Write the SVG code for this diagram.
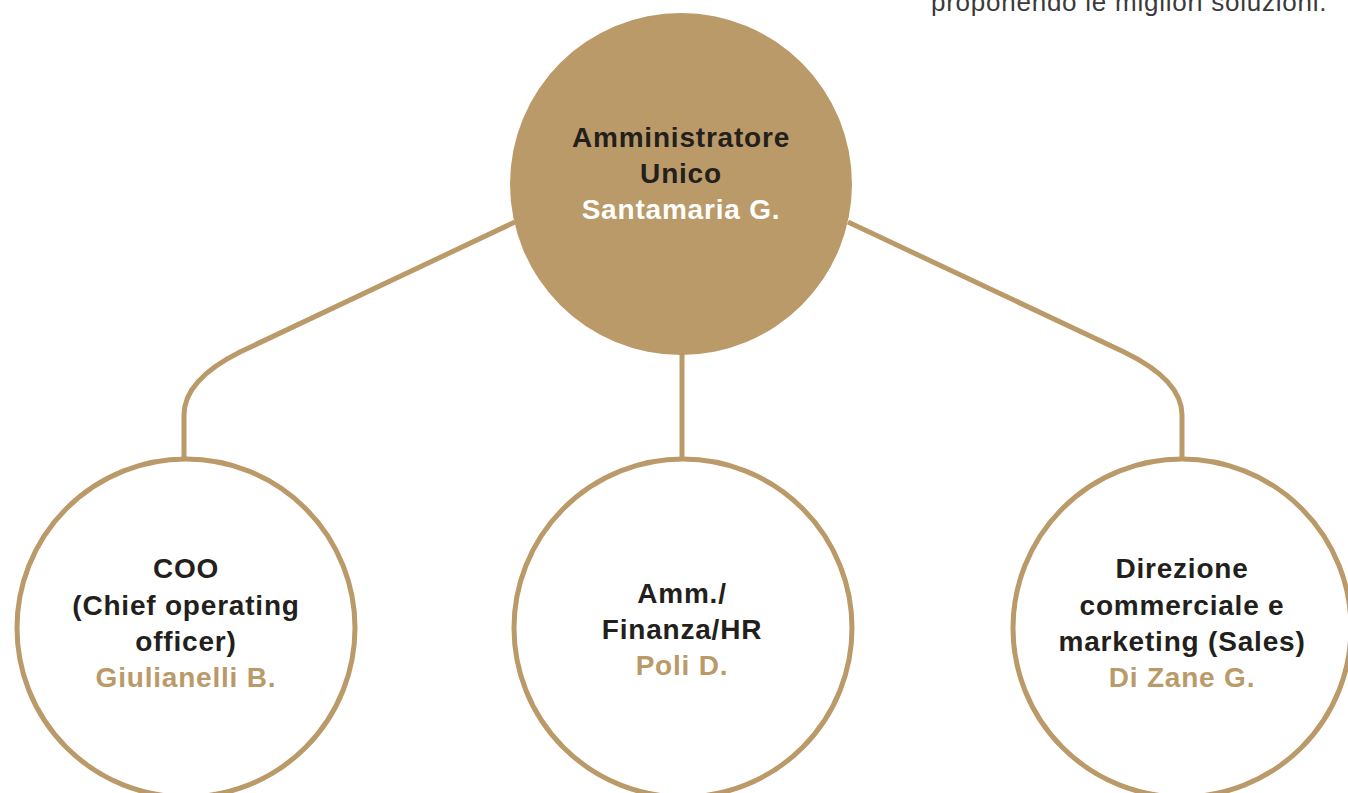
<svg xmlns="http://www.w3.org/2000/svg" width="1348" height="793" viewBox="0 0 1348 793">
<style>
.conn{fill:none;stroke:#BA9A68;stroke-width:5;}
.node{fill:#fff;stroke:#BA9A68;stroke-width:5;}
.t{font-family:"Liberation Sans",Arial,sans-serif;font-weight:bold;font-size:28px;letter-spacing:0.8px;text-anchor:middle;}
.dark{fill:#231F1C;}
.gold{fill:#BA9A68;}
.white{fill:#fff;}
.top{font-family:"Liberation Sans",Arial,sans-serif;font-size:26px;fill:#3a3a3a;letter-spacing:0.75px;}
</style>
<rect width="1348" height="793" fill="#fff"/>
<text class="top" x="931" y="11">proponendo le migliori soluzioni.</text>
<g id="connectors">
<path class="conn" d="M515 222 L240 352 Q184 380 184 415 V458"/>
<path class="conn" d="M848 222 L1124 352 Q1182 380 1182 415 V458"/>
<path class="conn" d="M682 350 V458"/>
</g>
<g id="node-amministratore">
<circle cx="681" cy="184" r="171" fill="#BA9A68"/>
<text class="t dark" x="681" y="147">Amministratore</text>
<text class="t dark" x="681" y="183">Unico</text>
<text class="t white" x="681" y="219">Santamaria G.</text>
</g>
<g id="node-coo">
<circle class="node" cx="186" cy="628" r="169"/>
<text class="t dark" x="186" y="578">COO</text>
<text class="t dark" x="186" y="615">(Chief operating</text>
<text class="t dark" x="186" y="651">officer)</text>
<text class="t gold" x="186" y="687">Giulianelli B.</text>
</g>
<g id="node-amm">
<circle class="node" cx="683" cy="628" r="169"/>
<text class="t dark" x="682" y="603">Amm./</text>
<text class="t dark" x="682" y="639">Finanza/HR</text>
<text class="t gold" x="682" y="675">Poli D.</text>
</g>
<g id="node-direzione">
<circle class="node" cx="1182" cy="628" r="169"/>
<text class="t dark" x="1182" y="578">Direzione</text>
<text class="t dark" x="1182" y="615">commerciale e</text>
<text class="t dark" x="1182" y="651">marketing (Sales)</text>
<text class="t gold" x="1182" y="687">Di Zane G.</text>
</g>
</svg>
